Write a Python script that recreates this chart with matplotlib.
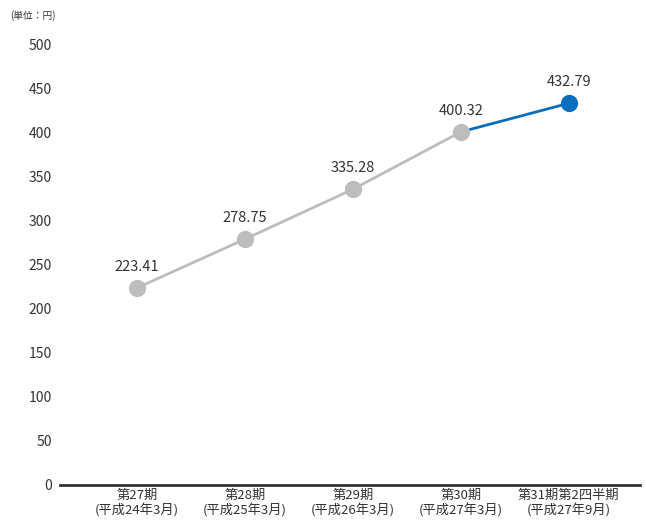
import matplotlib.pyplot as plt

plt.rcParams['font.family'] = ['Noto Sans CJK JP', 'DejaVu Sans']

categories = ['第27期\n(平成24年3月)', '第28期\n(平成25年3月)', '第29期\n(平成26年3月)',
              '第30期\n(平成27年3月)', '第31期第2四半期\n(平成27年9月)']
values = [223.41, 278.75, 335.28, 400.32, 432.79]
labels = ['223.41', '278.75', '335.28', '400.32', '432.79']
yticks = [0, 50, 100, 150, 200, 250, 300, 350, 400, 450, 500]

gray = '#BDBDBF'
blue = '#0A6EBD'

fig = plt.figure(figsize=(6.46, 5.21), dpi=100)
ax = fig.add_axes([60 / 646, 36 / 521, 580 / 646, 441 / 521])

x = list(range(len(values)))
ax.plot(x[:4], values[:4], color=gray, lw=2, zorder=2)
ax.plot(x[3:], values[3:], color=blue, lw=2, zorder=2)
ax.scatter(x[:4], values[:4], s=130, color=gray, zorder=3)
ax.scatter(x[4:], values[4:], s=130, color=blue, zorder=3)

for xi, v, t in zip(x, values, labels):
    ax.annotate(t, (xi, v), xytext=(0, 10), textcoords='offset points',
                ha='center', va='bottom', fontsize=10.5, color='#333333')

ax.set_xlim(-0.713, 4.66)
ax.set_ylim(0, 500)
ax.set_yticks(yticks)
ax.set_xticks(x)
ax.set_xticklabels(categories, fontsize=9.5, color='#333333', linespacing=1.1)
ax.tick_params(axis='both', length=0)
ax.tick_params(axis='y', labelsize=10, colors='#333333', pad=6)
ax.tick_params(axis='x', pad=3)

for s in ['top', 'right', 'left']:
    ax.spines[s].set_visible(False)
ax.spines['bottom'].set_color('#333333')
ax.spines['bottom'].set_linewidth(2)

fig.text(10 / 646, 1 - 16 / 521, '(単位：円)', fontsize=7, color='#333333', va='center')

fig.savefig('out.png', dpi=100)
